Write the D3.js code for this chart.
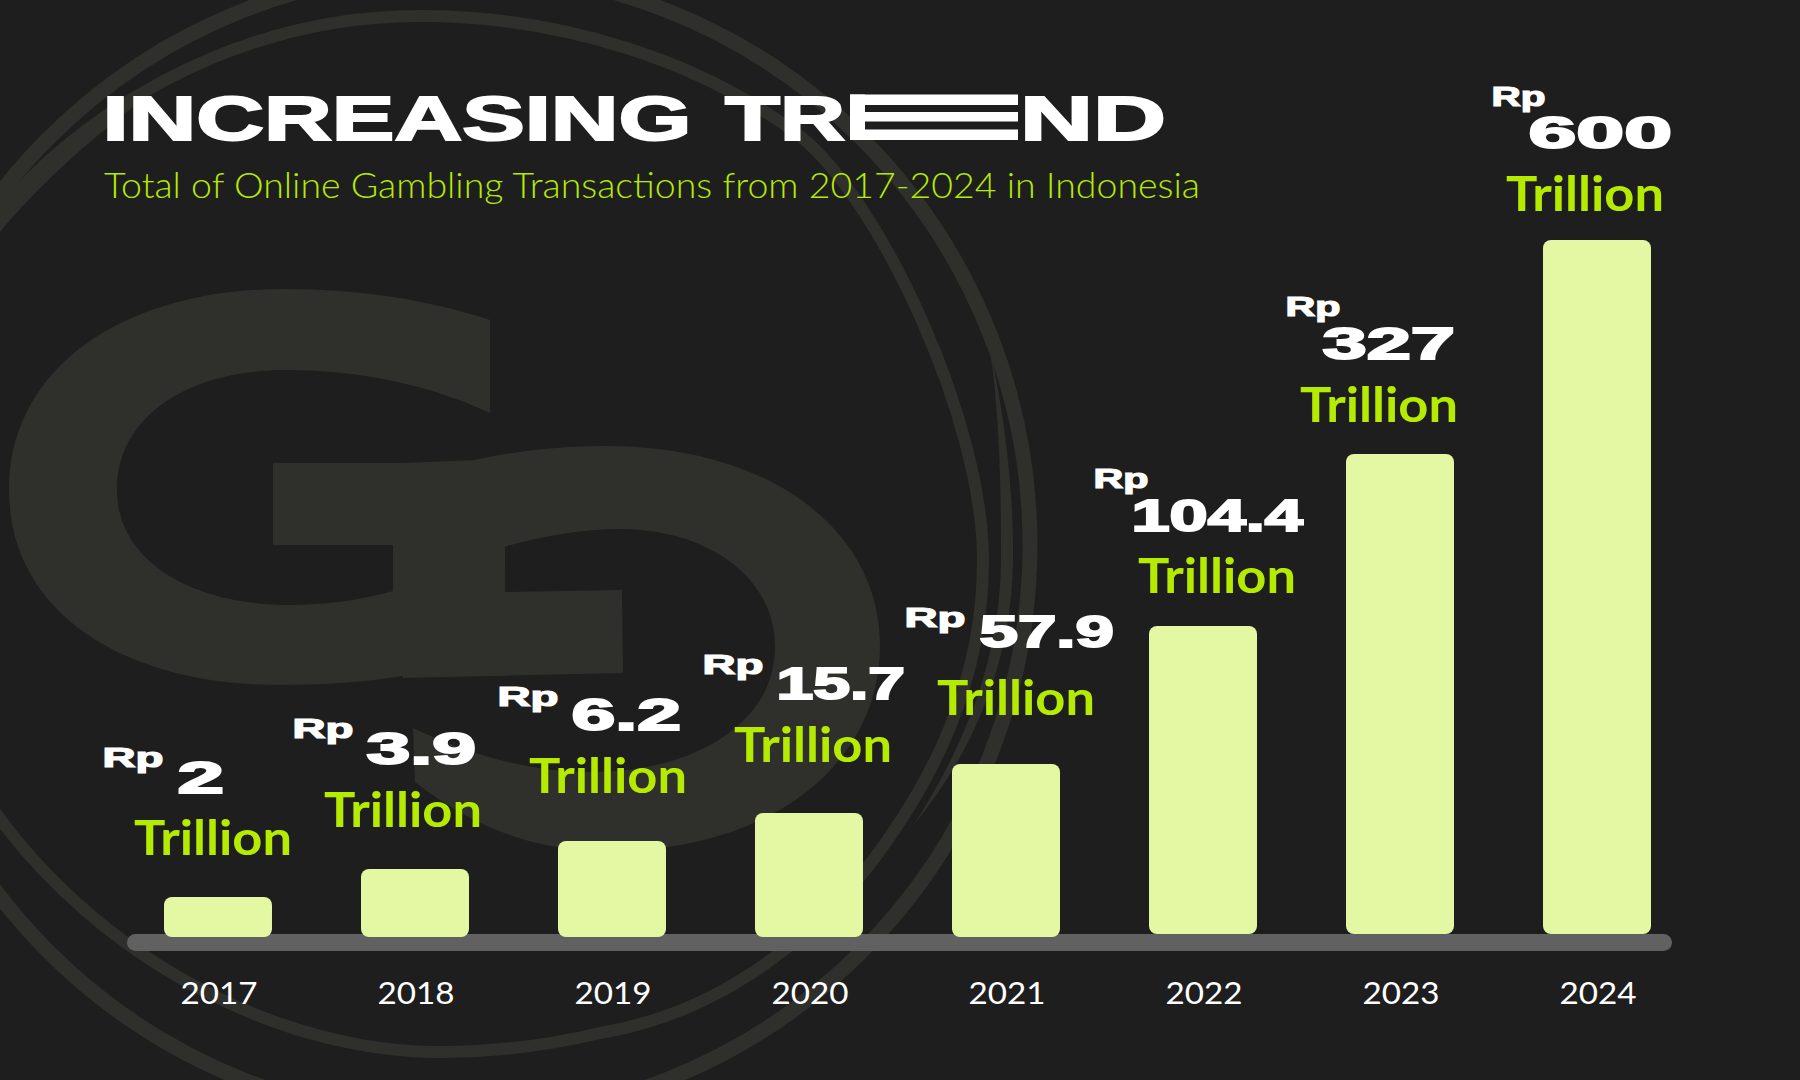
<!DOCTYPE html>
<html>
<head>
<meta charset="utf-8">
<script src="https://cdnjs.cloudflare.com/ajax/libs/d3/7.8.5/d3.min.js"></script>
<style>
  html, body { margin: 0; background: #1e1e1e; }
  svg { display: block; }
</style>
</head>
<body>
<div id="chart"></div>
<script>
const vpW = 1800, vpH = 1080;
const wide = '"Liberation Sans", Arial, sans-serif';
const light = 'Lato, "Noto Sans", sans-serif';

// value = what the label says, h = drawn bar height (bars are not to scale)
// lift = bar sits on top of the baseline instead of overlapping it
const data = [
  { year: 2017, value: "2",     h: 40,  lift: 0, rp: [104, 767, 59], num: [179, 793, 44],   tr: [134, 855] },
  { year: 2018, value: "3.9",   h: 68,  lift: 0, rp: [294, 738, 59], num: [368, 764, 107],  tr: [324, 827] },
  { year: 2019, value: "6.2",   h: 96,  lift: 0, rp: [499, 706, 59], num: [573, 730, 107],  tr: [529, 793] },
  { year: 2020, value: "15.7",  h: 124, lift: 0, rp: [704, 674, 59], num: [778, 699, 126],  tr: [734, 762] },
  { year: 2021, value: "57.9",  h: 173, lift: 0, rp: [906, 627, 59], num: [981, 647, 132],  tr: [937, 715] },
  { year: 2022, value: "104.4", h: 311, lift: 3, rp: [1095, 488, 53], num: [1133, 531, 169], tr: [1138, 593] },
  { year: 2023, value: "327",   h: 483, lift: 3, rp: [1287, 316, 53], num: [1324, 359, 130], tr: [1300, 421.5] },
  { year: 2024, value: "600",   h: 697, lift: 3, rp: [1493, 106, 52], num: [1530, 148, 141], tr: [1506, 211] }
];

const svg = d3.select("#chart").append("svg")
  .attr("width", vpW)
  .attr("height", vpH)
  .attr("viewBox", `0 0 ${vpW} ${vpH}`);

svg.append("rect").attr("width", vpW).attr("height", vpH).attr("fill", "#1e1e1e");

// faint logo behind the chart
const logo = svg.append("g").attr("fill", "#2f2f2b");
logo.append("path").attr("d",
  "M490,320 C430,300 360,289 285,289 C120,289 9,370 9,490 C9,610 120,685 280,685 C325,685 365,682 403,676 " +
  "L505,676 L505,463 L273,463 L273,545 L393,545 L393,591 C360,600 325,605 290,605 C190,605 117,560 117,490 " +
  "C117,415 190,370 285,370 C360,370 430,385 490,413 Z");
logo.append("path").attr("d",
  "M475,460 C515,451 560,446 606,446 C770,446 880,530 880,645 C880,765 770,851 610,851 C530,851 470,825 415,782 " +
  "L413,728 C470,755 530,772 590,772 C700,772 775,720 775,647 C775,575 705,529 620,529 C580,529 540,537 503,547 " +
  "L505,592 L622,590 L623,673 L403,678 L403,463 Z");

// swirl around the logo: a full ring, a long spiral and two tapered slivers
logo.append("circle")
  .attr("cx", 455).attr("cy", 545).attr("r", 575)
  .attr("fill", "none").attr("stroke", "#2f2f2b").attr("stroke-width", 15);
logo.append("path")
  .attr("fill", "none").attr("stroke", "#2f2f2b").attr("stroke-width", 12)
  .attr("d",
    "M-8,222 C70,120 230,16 420,16 C560,16 700,60 800,136 C880,200 983,420 983,560 C983,680 935,780 867,868 " +
    "C800,950 710,1015 600,1033 C550,1045 495,1052 440,1052 C280,1052 100,960 -8,808");
logo.append("path").attr("d",
  "M990,350 C1006,420 1014,500 1013,560 C1012,660 975,750 913,826 C965,745 1000,660 1001,560 C1001,490 1000,420 990,350 Z");
logo.append("path").attr("d",
  "M-5,215 C45,160 110,105 190,65 C120,115 50,170 -5,238 Z");

// title, the E of TREND is stretched into three stripes
const title = svg.append("g")
  .attr("fill", "#fff")
  .attr("aria-label", "INCREASING TREND")
  .style("font-family", wide)
  .style("font-weight", 700)
  .style("font-size", "63px");
[["INCREASING", 102.5, 589], ["TR", 725, 120], ["ND", 1020, 146]].forEach(p => {
  title.append("text")
    .attr("x", p[1]).attr("y", 139.5)
    .attr("textLength", p[2]).attr("lengthAdjust", "spacingAndGlyphs")
    .attr("stroke", "#fff").attr("stroke-width", 2)
    .text(p[0]);
});
title.append("rect").attr("x", 850).attr("y", 94.5).attr("width", 15).attr("height", 45.5);
[[94.5, 10.5], [112, 9.5], [129.5, 10.5]].forEach(r => {
  title.append("rect").attr("x", 850).attr("y", r[0]).attr("width", 168).attr("height", r[1]);
});

svg.append("text")
  .attr("x", 104).attr("y", 198)
  .attr("textLength", 1096).attr("lengthAdjust", "spacingAndGlyphs")
  .attr("fill", "#b5eb00")
  .style("font-family", light)
  .style("font-weight", 300)
  .style("font-size", "36px")
  .text("Total of Online Gambling Transactions from 2017-2024 in Indonesia");

// scales
const x = d3.scaleBand()
  .domain(data.map(d => d.year))
  .range([164, 1651])
  .paddingInner(0.4518);

const y = d3.scaleLinear().domain([0, 700]).range([937, 237]);

// baseline
svg.append("rect")
  .attr("x", 127).attr("y", 934)
  .attr("width", 1545).attr("height", 17)
  .attr("rx", 8.5)
  .attr("fill", "#616161");

svg.selectAll("rect.bar").data(data).join("rect")
  .attr("class", "bar")
  .attr("x", d => x(d.year))
  .attr("y", d => y(d.h))
  .attr("width", x.bandwidth())
  .attr("height", d => y(d.lift) - y(d.h))
  .attr("rx", 8)
  .attr("fill", "#e4f8a4");

// year labels
const axis = svg.append("g")
  .attr("transform", "translate(1,951)")
  .call(d3.axisBottom(x).tickSize(0).tickPadding(31));
axis.select(".domain").remove();
axis.selectAll("text")
  .attr("fill", "#fff")
  .attr("textLength", 77).attr("lengthAdjust", "spacingAndGlyphs")
  .style("font-family", light)
  .style("font-weight", 400)
  .style("font-size", "31px");

// value labels
const labels = svg.selectAll("g.label").data(data).join("g").attr("class", "label");

labels.append("text")
  .attr("x", d => d.rp[0] - 1.5).attr("y", d => d.rp[1])
  .attr("textLength", d => d.rp[2] + 2).attr("lengthAdjust", "spacingAndGlyphs")
  .attr("fill", "#fff").attr("stroke", "#fff").attr("stroke-width", 1.2)
  .style("font-family", wide).style("font-weight", 700).style("font-size", "27px")
  .text("Rp");

labels.append("text")
  .attr("x", d => d.num[0] - 1.5).attr("y", d => d.num[1])
  .attr("textLength", d => d.num[2] + 2.5).attr("lengthAdjust", "spacingAndGlyphs")
  .attr("fill", "#fff").attr("stroke", "#fff").attr("stroke-width", 2)
  .style("font-family", wide).style("font-weight", 700).style("font-size", "45px")
  .text(d => d.value);

labels.append("text")
  .attr("x", d => d.tr[0]).attr("y", d => d.tr[1])
  .attr("textLength", 158).attr("lengthAdjust", "spacingAndGlyphs")
  .attr("fill", "#b5eb00")
  .style("font-family", light).style("font-weight", 700).style("font-size", "47px")
  .text("Trillion");
</script>
</body>
</html>
